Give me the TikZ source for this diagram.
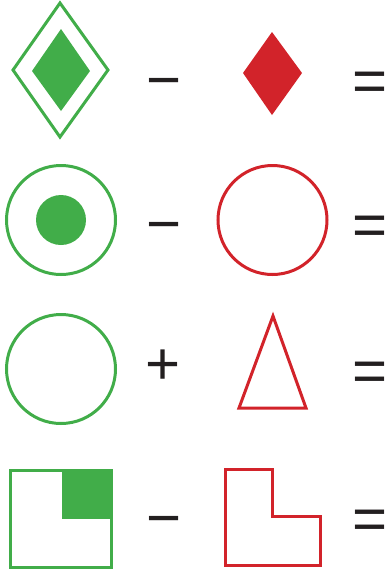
\documentclass[tikz,border=0pt]{standalone}
\usepackage{fontspec}
\setmainfont{Liberation Sans}
\definecolor{gr}{HTML}{41AD49}
\definecolor{rd}{HTML}{D2232A}
\definecolor{bk}{HTML}{231F20}
\begin{document}
\begin{tikzpicture}[x=1pt,y=-1pt,
  gline/.style={draw=gr,line width=3pt},
  rline/.style={draw=rd,line width=3pt},
  op/.style={inner sep=0pt,anchor=base,text=bk,font=\fontsize{60}{60}\selectfont},
  eq/.style={inner sep=0pt,anchor=base west,text=bk,font=\fontsize{60}{60}\selectfont}]
\useasboundingbox (0,0) rectangle (386,571);
% row 1
\draw[gline,line join=miter] (60,3) -- (108,70) -- (60,137) -- (13,70) -- cycle;
\fill[gr] (61,29) -- (90,71) -- (61,111) -- (32,71) -- cycle;
\node[op] (m1) at (164.5,100.3) {−};
\fill[rd] (272,32) -- (302,73) -- (272,115) -- (243,73) -- cycle;
\node[eq] (e1) at (355,101.2) {\kern-3.2pt=\kern-3.2pt};
% row 2
\draw[gline] (61,220) circle (54.5);
\fill[gr] (61,220) circle (25);
\node[op] (m2) at (164.5,244.3) {−};
\draw[rline] (272.5,220) circle (54.5);
\node[eq] (e2) at (355,245.2) {\kern-3.2pt=\kern-3.2pt};
% row 3
\draw[gline] (61,369) circle (54.5);
\node[op] (p3) at (163.5,384.3) {+};
\draw[rline,line join=miter] (273,316) -- (306,408) -- (239,408) -- cycle;
\node[eq] (e3) at (355,391.5) {\kern-3.2pt=\kern-3.2pt};
% row 4
\fill[gr] (62,469) rectangle (113,519);
\draw[gline] (10.5,470.5) rectangle (111.5,567.5);
\node[op] (m4) at (164.5,538.3) {−};
\draw[rline] (225.5,469.5) -- (272.5,469.5) -- (272.5,516.5) -- (320.5,516.5) -- (320.5,565.5) -- (225.5,565.5) -- cycle;
\node[eq] (e4) at (355,539) {\kern-3.2pt=\kern-3.2pt};
\end{tikzpicture}
\end{document}
